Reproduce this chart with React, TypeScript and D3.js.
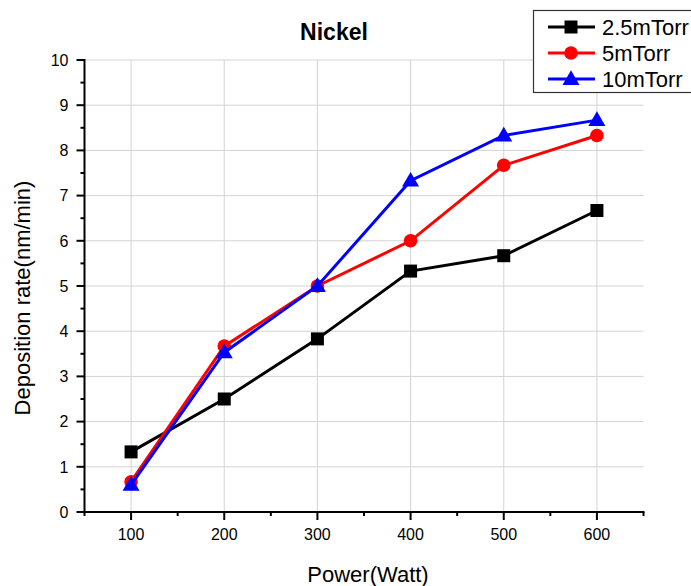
import React from "react";
import * as d3 from "d3";

const powers = [100, 200, 300, 400, 500, 600];
const rate25 = [1.33, 2.5, 3.83, 5.33, 5.67, 6.67];
const rate5 = [0.67, 3.67, 5.0, 6.0, 7.67, 8.33];
const rate10 = [0.6, 3.53, 5.0, 7.33, 8.33, 8.67];
const seriesNames = ["2.5mTorr", "5mTorr", "10mTorr"];
const seriesColors = ["#000000", "#ff0000", "#0000ff"];
const seriesShapes = ["square", "circle", "triangle"];
const yTicks = [0, 1, 2, 3, 4, 5, 6, 7, 8, 9, 10];
const xTicks = [100, 200, 300, 400, 500, 600];

const W = 691, H = 586;
const left = 84.5, right = 643.5, top = 60, bottom = 512;

function Marker({ shape, x, y, color }: { shape: string; x: number; y: number; color: string }) {
  if (shape === "square") return <rect x={x - 6.5} y={y - 6.5} width={13} height={13} fill={color} />;
  if (shape === "circle") return <circle cx={x} cy={y} r={6.8} fill={color} />;
  const s = d3.symbol().type(d3.symbolTriangle).size(125)();
  return <path d={s || ""} transform={`translate(${x},${y + 1})`} fill={color} />;
}

export default function App() {
  const x = d3.scaleLinear().domain([50, 650]).range([left, right]);
  const y = d3.scaleLinear().domain([0, 10]).range([bottom, top]);
  const all = [rate25, rate5, rate10];
  const line = d3.line<number>().x((_, i) => x(powers[i])).y((d) => y(d));
  const minorX = d3.range(50, 651, 50).filter((v) => v % 100 !== 0);
  const minorY = d3.range(0.5, 10, 1);
  const font = "Arial, 'Liberation Sans', sans-serif";
  return (
    <svg width={W} height={H} style={{ position: "absolute", left: 0, top: 0, background: "#fff" }} fontFamily={font}>
      {yTicks.filter((t) => t > 0).map((t) => (
        <line key={"gy" + t} x1={left} x2={right} y1={y(t)} y2={y(t)} stroke="#d3d3d3" strokeWidth={1} />
      ))}
      {xTicks.map((t) => (
        <line key={"gx" + t} x1={x(t)} x2={x(t)} y1={top} y2={bottom} stroke="#d3d3d3" strokeWidth={1} />
      ))}
      {all.map((arr, si) => (
        <g key={si}>
          <path d={line(arr) || ""} fill="none" stroke={seriesColors[si]} strokeWidth={3} />
          {arr.map((v, i) => (
            <Marker key={i} shape={seriesShapes[si]} x={x(powers[i])} y={y(v)} color={seriesColors[si]} />
          ))}
        </g>
      ))}
      <line x1={left} x2={left} y1={top - 1} y2={bottom + 1} stroke="#000" strokeWidth={2} />
      <line x1={left - 1} x2={right + 1} y1={bottom} y2={bottom} stroke="#000" strokeWidth={2} />
      {yTicks.map((t) => (
        <g key={"yt" + t}>
          <line x1={left - 8} x2={left} y1={y(t)} y2={y(t)} stroke="#000" strokeWidth={2} />
          <text x={left - 16} y={y(t)} dy="0.36em" textAnchor="end" fontSize={16}>{t}</text>
        </g>
      ))}
      {minorY.map((t) => (
        <line key={"ym" + t} x1={left - 4} x2={left} y1={y(t)} y2={y(t)} stroke="#000" strokeWidth={2} />
      ))}
      {xTicks.map((t) => (
        <g key={"xt" + t}>
          <line x1={x(t)} x2={x(t)} y1={bottom} y2={bottom + 8} stroke="#000" strokeWidth={2} />
          <text x={x(t)} y={bottom + 28} textAnchor="middle" fontSize={16}>{t}</text>
        </g>
      ))}
      {minorX.map((t) => (
        <line key={"xm" + t} x1={x(t)} x2={x(t)} y1={bottom} y2={bottom + 4} stroke="#000" strokeWidth={2} />
      ))}
      <text x={334} y={40} textAnchor="middle" fontSize={23} fontWeight="bold">Nickel</text>
      <text x={368} y={582} textAnchor="middle" fontSize={22}>Power(Watt)</text>
      <text transform={`translate(30,298) rotate(-90)`} textAnchor="middle" fontSize={22}>Deposition rate(nm/min)</text>
      <rect x={533.5} y={10.5} width={170} height={82} fill="#fff" stroke="#333" strokeWidth={1.2} />
      {seriesNames.map((n, i) => {
        const ly = 27 + i * 26;
        return (
          <g key={n}>
            <line x1={548} x2={595} y1={ly} y2={ly} stroke={seriesColors[i]} strokeWidth={3} />
            <Marker shape={seriesShapes[i]} x={571} y={ly} color={seriesColors[i]} />
            <text x={602} y={ly} dy="0.36em" fontSize={22}>{n}</text>
          </g>
        );
      })}
    </svg>
  );
}
